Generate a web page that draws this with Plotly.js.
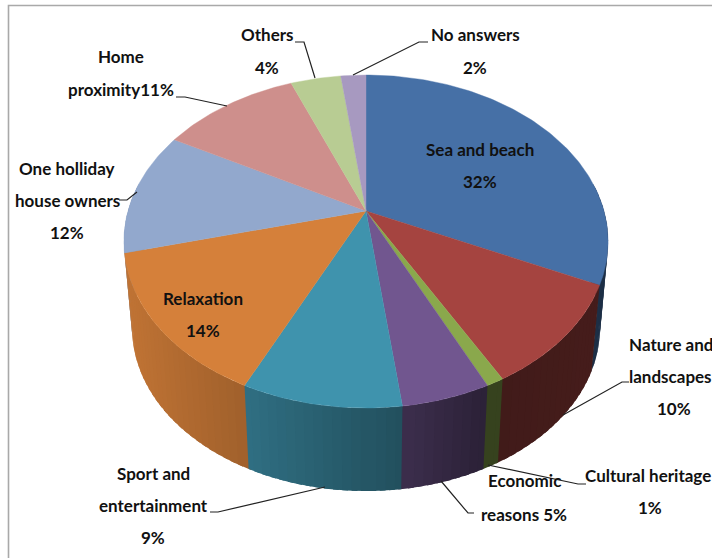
<!DOCTYPE html>
<html>
<head>
<meta charset="utf-8">
<script src="https://cdn.plot.ly/plotly-3.0.1.min.js"></script>
<style>html,body{margin:0;padding:0;background:#fff;overflow:hidden}#chart{width:712px;height:558px}</style>
</head>
<body>
<div id="chart"></div>
<script>
// Survey shares, clockwise from twelve o'clock
const categories = ['Sea and beach', 'Nature and landscapes', 'Cultural heritage', 'Economic reasons',
  'Sport and entertainment', 'Relaxation', 'One holliday house owners', 'Home proximity', 'Others', 'No answers'];
const shares = [32, 10, 1, 5, 9, 14, 12, 11, 4, 2];
const sliceColors = ['#4670a6', '#a54440', '#8aa84c', '#71568f', '#3f93ad', '#d5803a', '#92a8cd', '#ce8f8c', '#b8cc93', '#a799c0'];

// Label text, one entry per printed line
const labelLines = [
  ['Sea and beach', '32%'], ['Nature and', 'landscapes', '10%'], ['Cultural heritage', '1%'],
  ['Economic', 'reasons 5%'], ['Sport and', 'entertainment', '9%'], ['Relaxation', '14%'],
  ['One holliday', 'house owners', '12%'], ['Home', 'proximity11%'], ['Others', '4%'], ['No answers', '2%']
];
// Centre x and first-line y of each label block, in axis units
const labelX = [480, 670.5, 648, 524, 153, 203, 67, 121, 267, 475];
const labelY = [149, 344, 475, 480, 473, 298, 168, 56, 34, 34];
const lineGaps = [32, 32, 32, 34, 32, 32, 32, 33, 33, 33];

// Leader lines for the labels placed outside the pie
const leaders = [
  [[629, 622, 563], [382, 382, 415]],
  [[586, 578, 488], [484, 484, 465]],
  [[474, 468, 441], [513, 513, 481]],
  [[210, 218, 325], [512, 512, 487]],
  [[119, 127, 137], [200, 200, 192]],
  [[176, 185, 227], [97, 97, 106]],
  [[295, 304, 315], [42, 42, 78]],
  [[428, 419, 353], [42, 42, 75]]
];

// Perspective disc: the near edge is drawn larger than the far edge
const topDisc = {cx: 366, cy: 211, a: 238, b: 160.9, k: 0.1832};
const baseDisc = {cx: 366, cy: 298, a: 230, b: 157.7, k: 0.1832};
function project(disc, deg) {
  const t = deg * Math.PI / 180, d = 1 + disc.k * Math.cos(t);
  return [disc.cx + disc.a * Math.sin(t) / d, disc.cy - disc.b * Math.cos(t) / d];
}

// Side walls darken from left to right
const shadeX = [125, 250, 400, 480, 600];
const shadeF = [0.90, 0.75, 0.54, 0.39, 0.42];
function shadeAt(x) {
  if (x <= shadeX[0]) return shadeF[0];
  for (let i = 1; i < shadeX.length; i++) {
    if (x <= shadeX[i]) {
      const f = (x - shadeX[i - 1]) / (shadeX[i] - shadeX[i - 1]);
      return shadeF[i - 1] + f * (shadeF[i] - shadeF[i - 1]);
    }
  }
  return shadeF[shadeF.length - 1];
}
function darken(hex, f) {
  const n = parseInt(hex.slice(1), 16);
  return `rgb(${Math.round((n >> 16) * f)},${Math.round(((n >> 8) & 255) * f)},${Math.round((n & 255) * f)})`;
}

const total = shares.reduce((s, v) => s + v, 0);
const spans = [];
let running = 0;
shares.forEach((v, i) => {
  spans.push({i, from: running / total * 360, to: (running + v) / total * 360});
  running += v;
});

const wallStep = 2, wallOverlap = 0.6;
const strips = [];
// Side walls along the part of the rim that faces the viewer
spans.forEach(({i, from, to}) => {
  const start = Math.max(from, 80), end = Math.min(to, 280);
  if (end <= start) return;
  const n = Math.max(1, Math.ceil((end - start) / wallStep));
  for (let j = 0; j < n; j++) {
    const d1 = start + (end - start) * j / n, d2 = start + (end - start) * (j + 1) / n;
    // Each strip runs a little under its nearer neighbour so no seams show;
    // the edge towards the back stays on the slice boundary
    let e1 = Math.max(start, d1 - wallOverlap), e2 = Math.min(end, d2 + wallOverlap);
    if (d2 <= 180) e2 = d2 + wallOverlap;
    if (d1 >= 180) e1 = d1 - wallOverlap;
    const p = [project(topDisc, e1), project(topDisc, e2), project(baseDisc, e2), project(baseDisc, e1)];
    const mid = project(topDisc, (d1 + d2) / 2);
    const col = darken(sliceColors[i], shadeAt(mid[0]));
    strips.push({
      depth: Math.cos((d1 + d2) / 2 * Math.PI / 180),
      trace: {
        type: 'scatter', mode: 'lines', fill: 'toself', fillcolor: col,
        x: p.map(q => q[0]).concat(p[0][0]), y: p.map(q => q[1]).concat(p[0][1]),
        line: {color: col, width: 0}, hoverinfo: 'skip', showlegend: false
      }
    });
  }
});
// Far strips are painted first so nearer ones cover them
strips.sort((a, b) => b.depth - a.depth);
const traces = strips.map(s => s.trace);

// Top face wedges
spans.forEach(({i, from, to}) => {
  const xs = [topDisc.cx], ys = [topDisc.cy];
  const n = Math.max(4, Math.ceil((to - from)));
  for (let j = 0; j <= n; j++) {
    const q = project(topDisc, from + (to - from) * j / n);
    xs.push(q[0]); ys.push(q[1]);
  }
  xs.push(topDisc.cx); ys.push(topDisc.cy);
  traces.push({
    type: 'scatter', mode: 'lines', fill: 'toself', fillcolor: sliceColors[i], name: categories[i],
    x: xs, y: ys, line: {color: sliceColors[i], width: 0.4}, hoverinfo: 'name', showlegend: false
  });
});
// Leader lines above the pie
leaders.forEach(([x, y]) => traces.push({
  type: 'scatter', mode: 'lines', x, y, line: {color: '#222222', width: 1.2}, hoverinfo: 'skip', showlegend: false
}));

const annotations = [];
labelLines.forEach((lines, i) => lines.forEach((text, j) => annotations.push({
  x: labelX[i], y: labelY[i] + j * lineGaps[i], xref: 'x', yref: 'y', text, showarrow: false,
  xanchor: 'center', yanchor: 'middle',
  font: {family: 'Lato, sans-serif', size: 17, weight: 700, color: '#111111'}
})));
// The percentage lines of the two right-hand labels sit slightly off centre
annotations.filter(a => a.text === '10%').forEach(a => { a.x = 674; });
annotations.filter(a => a.text === '1%').forEach(a => { a.x = 650; });

const layout = {
  width: 712, height: 558, margin: {l: 0, r: 0, t: 0, b: 0},
  paper_bgcolor: '#ffffff', plot_bgcolor: '#ffffff', showlegend: false,
  xaxis: {range: [0, 712], visible: false, fixedrange: true},
  yaxis: {range: [558, 0], visible: false, fixedrange: true},
  annotations,
  // Frame around the chart area, running off the right and bottom edges
  shapes: [{
    type: 'path', path: 'M 8.5 558 L 8.5 5.5 L 712 5.5', xref: 'x', yref: 'y',
    line: {color: '#a9a9a9', width: 1.6}, layer: 'below'
  }]
};
Plotly.newPlot('chart', traces, layout, {displayModeBar: false, responsive: false});
</script>
</body>
</html>
